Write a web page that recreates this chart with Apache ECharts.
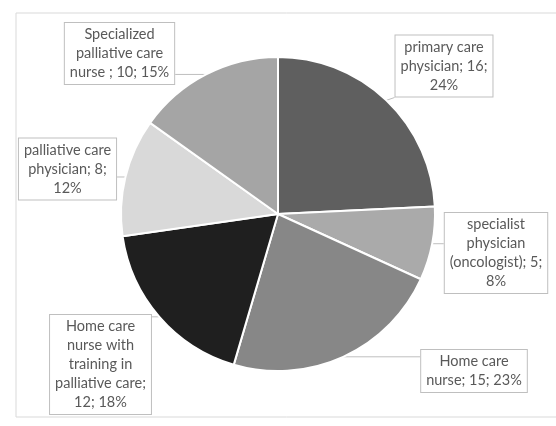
<!DOCTYPE html>
<html><head><meta charset="utf-8">
<script src="https://cdn.jsdelivr.net/npm/echarts@6/dist/echarts.min.js"></script>
<style>html,body{margin:0;padding:0;background:#fff}#c{width:556px;height:426px}</style>
</head><body><div id="c"></div>
<script>
// Data
const categories = ['primary care\nphysician', 'specialist\nphysician\n(oncologist)', 'Home care\nnurse', 'Home care\nnurse with\ntraining in\npalliative care', 'palliative care\nphysician', 'Specialized\npalliative care\nnurse '];
const values = [16, 5, 15, 12, 8, 10];
const separators = [['; ', ';\n'], ['; ', ';\n'], ['; ', '; '], [';\n', '; '], ['; ', ';\n'], ['; ', '; ']];

// Styles / layout
const colors = ['#5f5f5f', '#aaaaaa', '#878787', '#1f1f1f', '#d9d9d9', '#a5a5a5'];
const labelCenters = [[444, 66], [496, 253], [474, 371], [100.5, 364.5], [67.5, 169], [119.5, 53.5]];

const chart = echarts.init(document.getElementById('c'), null, {renderer: 'canvas'});
const clamp = (v, a, b) => Math.max(a, Math.min(b, v));
chart.setOption({
  backgroundColor: '#fff',
  animation: false,
  graphic: [{type: 'rect', shape: {x: 16, y: 13, width: 600, height: 404}, style: {fill: 'none', stroke: '#d9d9d9', lineWidth: 1}, silent: true, z: -1}],
  series: [{
    type: 'pie',
    center: [278, 214],
    radius: 157,
    startAngle: 90,
    clockwise: true,
    avoidLabelOverlap: false,
    percentPrecision: 0,
    itemStyle: {borderColor: '#fff', borderWidth: 2},
    label: {
      show: true,
      position: 'outside',
      color: '#595959',
      fontFamily: 'Lato',
      fontSize: 14.5,
      lineHeight: 19,
      backgroundColor: '#fff',
      borderColor: '#bfbfbf',
      borderWidth: 1,
      padding: [2, 5],
      align: 'center',
      formatter: p => p.name + separators[p.dataIndex][0] + p.value + separators[p.dataIndex][1] + p.percent + '%'
    },
    labelLine: {show: true, length: 10, length2: 10, lineStyle: {color: '#bfbfbf', width: 1}},
    labelLayout: function (params) {
      const i = params.dataIndex;
      const c = labelCenters[i];
      const w = params.labelRect.width, h = params.labelRect.height;
      const rx = c[0] - w / 2, ry = c[1] - h / 2;
      const res = {x: c[0], y: c[1], align: 'center', verticalAlign: 'middle'};
      if (params.labelLinePoints) {
        const p0 = params.labelLinePoints[0];
        const end = [clamp(p0[0], rx, rx + w), clamp(p0[1], ry, ry + h)];
        res.labelLinePoints = [p0, end];
      }
      return res;
    },
    data: categories.map((n, i) => ({name: n, value: values[i], itemStyle: {color: colors[i]}}))
  }]
});
</script></body></html>
